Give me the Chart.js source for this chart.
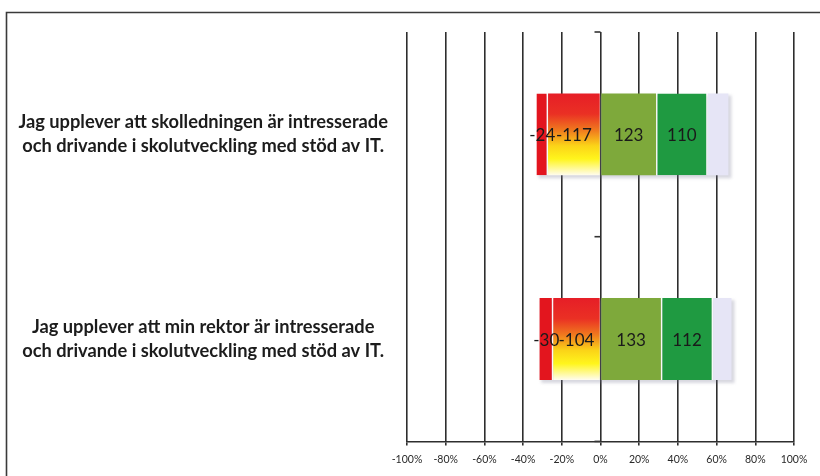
<!DOCTYPE html>
<html><head><meta charset="utf-8">
<script src="https://cdn.jsdelivr.net/npm/chart.js@4.4.1/dist/chart.umd.min.js"></script>
<style>html,body{margin:0;padding:0;background:#fff}#wrap{width:820px;height:476px;position:relative}</style>
</head><body><div id="wrap"><canvas id="c" width="820" height="476"></canvas></div>
<script>
// ---- data ----
const categories = [
  ["Jag upplever att skolledningen är intresserade", "och drivande i skolutveckling med stöd av IT."],
  ["Jag upplever att min rektor är intresserade", "och drivande i skolutveckling med stöd av IT."]
];
// shares (%)
const disagreePct        = [-27.1, -24.4];
const stronglyDisagreePct = [-6.0, -7.2];
const agreePct           = [28.7, 31.2];
const stronglyAgreePct   = [26.7, 27.0];
const noAnswerPct        = [10.7, 9.5];
// counts printed on the segments
const disagreeCounts        = [-117, -104];
const stronglyDisagreeCounts = [-24, -30];
const agreeCounts           = [123, 133];
const stronglyAgreeCounts   = [110, 112];
// x-axis tick values and labels
const xTickValues = [-100, -80, -60, -40, -20, 0, 20, 40, 60, 80, 100];
const xTickLabels = ["-100%", "-80%", "-60%", "-40%", "-20%", "0%", "20%", "40%", "60%", "80%", "100%"];

const BAR_PCT = 0.5, CAT_PCT = 0.8;

function disagreeFill(ctx) {
  const chart = ctx.chart, ys = chart.scales.y;
  if (!ys || !chart.chartArea || ctx.type !== 'data') return '#f2a020';
  const c = ys.getPixelForValue(ctx.dataIndex);
  const band = Math.abs(ys.getPixelForValue(1) - ys.getPixelForValue(0));
  const h = band * BAR_PCT * CAT_PCT / 2;
  const g = chart.ctx.createLinearGradient(0, c - h, 0, c + h);
  g.addColorStop(0, '#e61e27');
  g.addColorStop(0.25, '#ea3024');
  g.addColorStop(0.45, '#f07a1e');
  g.addColorStop(0.64, '#fbd418');
  g.addColorStop(0.8, '#fff51c');
  g.addColorStop(1, '#fffcef');
  return g;
}

const decor = {
  id: 'decor',
  beforeDatasetsDraw(chart) {
    const ctx = chart.ctx;
    const metas = chart.data.datasets.map((d, i) => chart.getDatasetMeta(i));
    categories.forEach((_, j) => {
      let l = Infinity, r = -Infinity, t = 0, b = 0;
      metas.forEach(m => {
        const el = m.data[j];
        l = Math.min(l, el.x, el.base); r = Math.max(r, el.x, el.base);
        t = el.y - el.height / 2; b = el.y + el.height / 2;
      });
      ctx.save();
      ctx.fillStyle = 'rgba(110,110,140,0.28)';
      ctx.filter = 'blur(1.5px)';
      ctx.fillRect(l + 2, t + 2, r - l + 1, b - t + 1);
      ctx.restore();
    });
  },
  afterDatasetsDraw(chart) {
    const ctx = chart.ctx, xs = chart.scales.x, ys = chart.scales.y;
    // category boundary ticks on the 0% line
    const x0 = xs.getPixelForValue(0);
    const band = Math.abs(ys.getPixelForValue(1) - ys.getPixelForValue(0));
    ctx.save();
    ctx.strokeStyle = '#333'; ctx.lineWidth = 1.6;
    for (let i = 0; i <= categories.length; i++) {
      const y = ys.getPixelForValue(0) - band / 2 + i * band;
      ctx.beginPath(); ctx.moveTo(x0 - 6, y); ctx.lineTo(x0, y); ctx.stroke();
    }
    ctx.restore();
    // segment labels
    const sets = [[1, stronglyDisagreeCounts], [0, disagreeCounts], [2, agreeCounts], [3, stronglyAgreeCounts]];
    ctx.save();
    ctx.font = '17px Lato';
    ctx.fillStyle = '#1a1a1a';
    ctx.textAlign = 'center'; ctx.textBaseline = 'middle';
    sets.forEach(([di, labels]) => {
      chart.getDatasetMeta(di).data.forEach((el, j) => {
        ctx.fillText(String(labels[j]), (el.x + el.base) / 2, el.y + 1);
      });
    });
    ctx.restore();
  },
  afterDraw(chart) {
    const ctx = chart.ctx;
    ctx.save();
    ctx.strokeStyle = '#3a3a3a'; ctx.lineWidth = 1.6;
    ctx.beginPath();
    ctx.moveTo(6.5, chart.height); ctx.lineTo(6.5, 12.5); ctx.lineTo(chart.width, 12.5);
    ctx.stroke();
    ctx.restore();
  }
};

new Chart(document.getElementById('c'), {
  type: 'bar',
  data: {
    labels: categories,
    datasets: [
      { label: 'Instämmer inte', data: disagreePct, backgroundColor: disagreeFill, borderWidth: 0 },
      { label: 'Instämmer inte alls', data: stronglyDisagreePct, backgroundColor: '#e3151e',
        borderColor: 'rgba(255,255,255,0.85)', borderWidth: { right: 1.5 }, borderSkipped: false },
      { label: 'Instämmer', data: agreePct, backgroundColor: '#7ea93b', borderWidth: 0 },
      { label: 'Instämmer helt', data: stronglyAgreePct, backgroundColor: '#1f9a41',
        borderColor: 'rgba(255,255,255,0.85)', borderWidth: { left: 1.5, right: 1.5 }, borderSkipped: false },
      { label: 'Vet ej', data: noAnswerPct, backgroundColor: '#e6e5f6', borderWidth: 0 }
    ]
  },
  options: {
    indexAxis: 'y',
    responsive: false,
    animation: false,
    devicePixelRatio: 1,
    barPercentage: BAR_PCT,
    categoryPercentage: CAT_PCT,
    layout: { padding: { left: 7, right: 26, top: 32, bottom: 2 } },
    plugins: { legend: { display: false }, tooltip: { enabled: false } },
    scales: {
      x: {
        type: 'linear', stacked: true, min: -100, max: 100,
        afterBuildTicks(s) { s.ticks = xTickValues.map(v => ({ value: v })); },
        ticks: {
          callback: (v) => xTickLabels[xTickValues.indexOf(v)],
          font: { family: 'Lato', size: 10.5 }, color: '#2a2a2a', padding: 8, maxRotation: 0, autoSkip: false
        },
        grid: { color: '#2e2e2e', lineWidth: 1.6, tickLength: 4 },
        border: { display: true, color: '#2e2e2e', width: 1.6 }
      },
      y: {
        type: 'category', stacked: true, position: 'left',
        grid: { display: false, drawTicks: false }, border: { display: false },
        afterFit(s) { s.width = 400; s.paddingTop = 0; s.paddingBottom = 0; },
        ticks: {
          crossAlign: 'center', padding: 19, color: '#1c1c1c',
          font: { family: 'Lato', size: 18.3, weight: 'bold', lineHeight: 1.3 }
        }
      }
    }
  },
  plugins: [decor]
});
</script>
</body></html>
